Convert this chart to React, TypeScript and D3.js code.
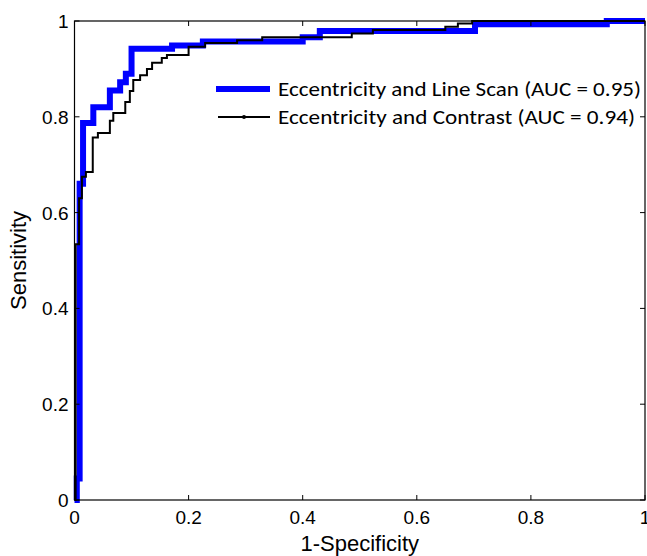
import React from "react";
import * as d3 from "d3";

// ROC step points: (fpr where tpr rises, new tpr level)
const blueFpr = [0, 0.004, 0.009, 0.015, 0.033, 0.062, 0.08, 0.09, 0.1, 0.171, 0.225, 0.4, 0.43, 0.702, 0.933, 1.0];
const blueTpr = [0, 0.045, 0.66, 0.787, 0.82, 0.855, 0.872, 0.89, 0.942, 0.949, 0.957, 0.966, 0.979, 0.993, 1.0, 1.0];

const blackFpr = [0, 0.002, 0.008, 0.013, 0.02, 0.032, 0.041, 0.062, 0.068, 0.089, 0.097, 0.103, 0.115, 0.127, 0.136, 0.153, 0.162, 0.2, 0.229, 0.285, 0.329, 0.486, 0.523, 0.65, 0.672, 0.697, 1.0];
const blackTpr = [0, 0.534, 0.63, 0.675, 0.685, 0.757, 0.766, 0.792, 0.808, 0.831, 0.854, 0.877, 0.887, 0.9, 0.913, 0.923, 0.929, 0.946, 0.954, 0.96, 0.966, 0.974, 0.981, 0.988, 0.995, 1.0, 1.0];

const xTicks = [0, 0.2, 0.4, 0.6, 0.8, 1];
const yTicks = [0, 0.2, 0.4, 0.6, 0.8, 1];
const xTickLabels = ["0", "0.2", "0.4", "0.6", "0.8", "1"];
const yTickLabels = ["0", "0.2", "0.4", "0.6", "0.8", "1"];

const seriesNames = [
  "Eccentricity and Line Scan (AUC = 0.95)",
  "Eccentricity and Contrast (AUC = 0.94)",
];

const W = 647;
const H = 556;
const L = 74.5, R = 645, T = 21, B = 500;

export default function App() {
  const x = d3.scaleLinear().domain([0, 1]).range([L, R]);
  const y = d3.scaleLinear().domain([0, 1]).range([B, T]);
  const line = d3
    .line<[number, number]>()
    .x((d) => x(d[0]))
    .y((d) => y(d[1]))
    .curve(d3.curveStepAfter);
  const bluePts: [number, number][] = blueFpr.map((f, i) => [f, blueTpr[i]]);
  const blackPts: [number, number][] = blackFpr.map((f, i) => [f, blackTpr[i]]);
  const tickLen = 5;
  const tickFont = "'Liberation Sans', Arial, sans-serif";
  const legFont = "Carlito, Calibri, Lato, sans-serif";

  return (
    <svg
      width={W}
      height={H}
      style={{ position: "absolute", left: 0, top: 0, background: "#fff" }}
    >
      <rect x={0} y={0} width={W} height={H} fill="#fff" />
      <path d={line(bluePts) || ""} fill="none" stroke="#0000ff" strokeWidth={6} />
      <path d={line(blackPts) || ""} fill="none" stroke="#000" strokeWidth={2} />
      {/* box */}
      <rect x={L} y={T} width={R - L} height={B - T} fill="none" stroke="#000" strokeWidth={1.2} />
      {xTicks.map((t, i) => (
        <g key={"xt" + i}>
          <line x1={x(t)} x2={x(t)} y1={B} y2={B - tickLen} stroke="#000" />
          <line x1={x(t)} x2={x(t)} y1={T} y2={T + tickLen} stroke="#000" />
          <text
            x={x(t)}
            y={B + 24}
            textAnchor="middle"
            fontFamily={tickFont}
            fontSize={19}
            fill="#000"
          >
            {xTickLabels[i]}
          </text>
        </g>
      ))}
      {yTicks.map((t, i) => (
        <g key={"yt" + i}>
          <line x1={L} x2={L + tickLen} y1={y(t)} y2={y(t)} stroke="#000" />
          <line x1={R} x2={R - tickLen} y1={y(t)} y2={y(t)} stroke="#000" />
          <text
            x={L - 6}
            y={y(t) + 7}
            textAnchor="end"
            fontFamily={tickFont}
            fontSize={19}
            fill="#000"
          >
            {yTickLabels[i]}
          </text>
        </g>
      ))}
      <text
        x={(L + R) / 2}
        y={551}
        textAnchor="middle"
        fontFamily={tickFont}
        fontSize={22}
        fill="#000"
      >
        1-Specificity
      </text>
      <text
        transform={`translate(26, ${(T + B) / 2}) rotate(-90)`}
        textAnchor="middle"
        fontFamily={tickFont}
        fontSize={22}
        fill="#000"
      >
        Sensitivity
      </text>
      {/* legend */}
      <line x1={216} x2={270} y1={89} y2={89} stroke="#0000ff" strokeWidth={6} />
      <line x1={218} x2={270} y1={117} y2={117} stroke="#000" strokeWidth={2} />
      <circle cx={244} cy={117} r={2} fill="#000" />
      <text
        x={278}
        y={96}
        fontFamily={legFont}
        fontSize={20}
        textLength={363}
        lengthAdjust="spacingAndGlyphs"
        fill="#000"
      >
        {seriesNames[0]}
      </text>
      <text
        x={278}
        y={124}
        fontFamily={legFont}
        fontSize={20}
        textLength={357}
        lengthAdjust="spacingAndGlyphs"
        fill="#000"
      >
        {seriesNames[1]}
      </text>
    </svg>
  );
}
